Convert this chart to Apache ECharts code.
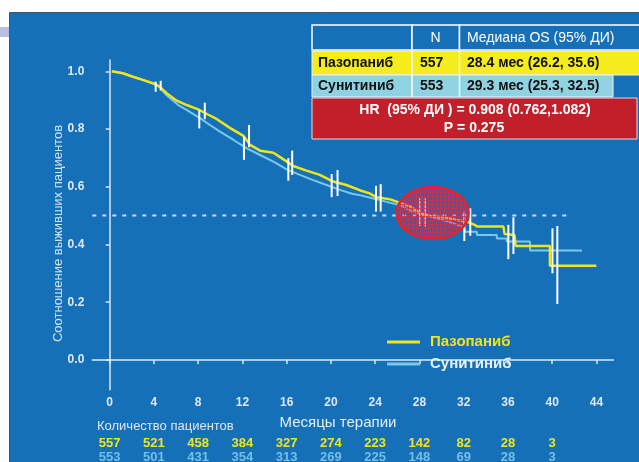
<!DOCTYPE html>
<html><head><meta charset="utf-8">
<script src="https://cdn.jsdelivr.net/npm/echarts@6/dist/echarts.min.js"></script>
<style>html,body{margin:0;padding:0;background:#fff;} #c{width:639px;height:462px;}</style>
</head><body><div id="c"></div>
<script>
// ---- data ----
const seriesNames = ['Пазопаниб', 'Сунитиниб'];
const xTicks = [0, 4, 8, 12, 16, 20, 24, 28, 32, 36, 40, 44];
const yTicks = [0, 0.2, 0.4, 0.6, 0.8, 1.0];
const pazoCurve = [[0.2,1.0],[1.2,0.993],[2.1,0.981],[3.0,0.970],[4.1,0.956],[4.5,0.947],[5.15,0.924],[6.06,0.898],[6.96,0.883],[8.0,0.868],[8.8,0.852],[9.7,0.834],[10.9,0.803],[12.1,0.776],[12.7,0.745],[13.6,0.725],[14.8,0.718],[15.55,0.699],[16.6,0.672],[17.8,0.656],[19.0,0.641],[20.2,0.618],[21.4,0.606],[22.6,0.588],[23.5,0.577],[24.1,0.564],[25.3,0.557],[26.2,0.545],[27.2,0.531],[28.1,0.508],[29.0,0.499],[30.2,0.494],[31.4,0.485],[32.3,0.479],[33.0,0.468],[33.2,0.462],[35.6,0.462],[35.7,0.436],[36.6,0.433],[36.7,0.395],[39.8,0.395],[39.8,0.326],[44.0,0.326]];
const suniCurve = [[0.2,1.0],[1.2,0.993],[2.1,0.981],[3.0,0.970],[4.1,0.955],[4.6,0.945],[4.85,0.929],[5.3,0.912],[6.2,0.883],[6.95,0.866],[8.2,0.837],[9.07,0.814],[9.97,0.791],[11.2,0.762],[12.4,0.733],[13.6,0.710],[14.8,0.687],[16.0,0.660],[17.2,0.641],[18.4,0.623],[19.6,0.606],[20.8,0.589],[22.0,0.575],[22.6,0.571],[24.1,0.557],[25.3,0.545],[26.2,0.537],[27.4,0.514],[28.7,0.499],[30.2,0.485],[31.7,0.465],[32.1,0.456],[32.1,0.444],[33.2,0.444],[33.2,0.433],[35.0,0.433],[35.0,0.421],[35.9,0.421],[35.9,0.410],[38.0,0.410],[38.0,0.379],[42.7,0.379]];
const pazoCI = [[4.61,0.933,0.967],[8.6,0.834,0.891],[12.6,0.737,0.814],[16.5,0.641,0.725],[20.6,0.568,0.658],[24.5,0.514,0.609],[28.5,0.462,0.560],[32.6,0.430,0.525],[36.5,0.367,0.494],[40.47,0.194,0.464]];
const suniCI = [[4.16,0.929,0.964],[8.1,0.802,0.866],[12.14,0.693,0.773],[16.15,0.621,0.699],[20.07,0.564,0.644],[24.08,0.514,0.603],[28.06,0.464,0.560],[32.06,0.412,0.514],[36.04,0.349,0.468],[40.03,0.300,0.456]];
const medianLevel = 0.5;
const medianLineSpan = [-1.57, 41.5];
const highlightCenter = [29.2, 0.509];
const riskTimes = [0, 4, 8, 12, 16, 20, 24, 28, 32, 36, 40];
const pazoRisk = [557, 521, 458, 384, 327, 274, 223, 142, 82, 28, 3];
const suniRisk = [553, 501, 431, 354, 313, 269, 225, 148, 69, 28, 3];
const tableHeader = ['N', 'Медиана OS (95% ДИ)'];
const tableRows = [['Пазопаниб', '557', '28.4 мес (26.2, 35.6)'], ['Сунитиниб', '553', '29.3 мес (25.3, 32.5)']];
const hrText = ['HR  (95% ДИ ) = 0.908 (0.762,1.082)', 'P = 0.275'];

// ---- style ----
const BLUE = '#1570b8', YEL = '#f0e41c', CYAN = '#7cc8ea', AX = '#dfe8f3';
const FONT = '"Liberation Sans", Arial, sans-serif';

const chart = echarts.init(document.getElementById('c'), null, {renderer: 'canvas'});

function ciSeries(name, data) {
  return {
    type: 'custom', name: name + ' CI', data: data, z: 4, silent: true,
    encode: {x: 0, y: [1, 2]},
    renderItem: function (params, api) {
      const p1 = api.coord([api.value(0), api.value(1)]);
      const p2 = api.coord([api.value(0), api.value(2)]);
      return {type: 'line', shape: {x1: p1[0], y1: p1[1], x2: p2[0], y2: p2[1]},
        style: {stroke: '#ffffff', lineWidth: 2}};
    }
  };
}

chart.setOption({
  backgroundColor: '#ffffff',
  animation: false,
  textStyle: {fontFamily: FONT},
  grid: {left: 92.3, right: 25.7, top: 60, bottom: 72.3},
  xAxis: {
    type: 'value', min: -1.57, max: 45.53,
    axisLine: {lineStyle: {color: AX, width: 1.5}},
    axisTick: {show: true, length: 4, customValues: xTicks, lineStyle: {color: AX, width: 1.5}},
    axisLabel: {customValues: xTicks, color: AX, fontWeight: 'bold', fontSize: 12, margin: 7, fontFamily: FONT},
    splitLine: {show: false}
  },
  yAxis: {
    type: 'value', min: -0.103, max: 1.039,
    axisLine: {show: true, lineStyle: {color: AX, width: 1.5}},
    axisTick: {show: true, length: 4, customValues: yTicks, lineStyle: {color: AX, width: 1.5}},
    axisLabel: {customValues: yTicks, color: AX, fontWeight: 'bold', fontSize: 12, margin: 8, fontFamily: FONT,
      formatter: function (v) { return v.toFixed(1); }},
    splitLine: {show: false}
  },
  legend: {
    orient: 'vertical', left: 382, top: 328, itemWidth: 33, itemHeight: 3, itemGap: 4, icon: 'rect',
    textStyle: {fontSize: 15, fontWeight: 'bold', lineHeight: 18, fontFamily: FONT, padding: [0, 0, 0, 5]},
    data: [{name: seriesNames[0], textStyle: {color: YEL}}, {name: seriesNames[1], textStyle: {color: '#e8f0f9'}}]
  },
  series: [
    {type: 'line', name: 'median', data: [[medianLineSpan[0], medianLevel], [medianLineSpan[1], medianLevel]],
      symbol: 'none', silent: true, z: 1, lineStyle: {color: '#c9daee', width: 2, type: [4, 6]}},
    {type: 'line', name: seriesNames[1], data: suniCurve, symbol: 'none', z: 2,
      itemStyle: {color: CYAN}, lineStyle: {color: CYAN, width: 2}},
    {type: 'line', name: seriesNames[0], data: pazoCurve, symbol: 'none', z: 3,
      itemStyle: {color: YEL}, lineStyle: {color: YEL, width: 2.5}},
    ciSeries(seriesNames[1], suniCI),
    ciSeries(seriesNames[0], pazoCI)
  ]
});

// hatch pattern for highlight ellipse
const pc = document.createElement('canvas');
pc.width = 4; pc.height = 4;
const g = pc.getContext('2d');
g.fillStyle = 'rgba(150,60,130,0.35)'; g.fillRect(0, 0, 4, 4);
g.fillStyle = 'rgba(225,40,70,0.7)'; g.fillRect(0, 0, 4, 1); g.fillRect(0, 0, 1, 4);

const toPx = (pt) => chart.convertToPixel({xAxisIndex: 0, yAxisIndex: 0}, pt);
const xPx = (m) => chart.convertToPixel({xAxisIndex: 0}, m);
const ec = toPx(highlightCenter);

const gr = [];
// panel
gr.push({type: 'rect', z: -10, shape: {x: 9.5, y: 12.5, width: 640, height: 460},
  style: {fill: BLUE, stroke: '#4a525c', lineWidth: 1}});
gr.push({type: 'rect', z: -10, shape: {x: 0, y: 27, width: 9, height: 10}, style: {fill: '#b6bee2'}});
// ellipse
gr.push({type: 'ellipse', z: 50, shape: {cx: ec[0], cy: ec[1], rx: 36, ry: 26},
  style: {fill: {image: pc, repeat: 'repeat'}, stroke: '#e3232b', lineWidth: 2.5}});
// axis titles
gr.push({type: 'text', z: 50, x: 58.3, y: 233.5, rotation: Math.PI / 2,
  style: {text: 'Соотношение выживших пациентов', fill: '#d8e4f1', font: '13px ' + FONT, align: 'center', verticalAlign: 'middle'}});
gr.push({type: 'text', z: 50, x: 338, y: 423,
  style: {text: 'Месяцы терапии', fill: '#e6eef8', font: '15px ' + FONT, align: 'center', verticalAlign: 'middle'}});
gr.push({type: 'text', z: 50, x: 97, y: 426,
  style: {text: 'Количество пациентов', fill: '#dce6f2', font: '13px ' + FONT, align: 'left', verticalAlign: 'middle'}});
// numbers at risk
riskTimes.forEach(function (t, i) {
  const x = xPx(t);
  gr.push({type: 'text', z: 50, x: x, y: 443.5,
    style: {text: String(pazoRisk[i]), fill: YEL, font: 'bold 13px ' + FONT, align: 'center', verticalAlign: 'middle'}});
  gr.push({type: 'text', z: 50, x: x, y: 457.5,
    style: {text: String(suniRisk[i]), fill: '#74bfe6', font: 'bold 13px ' + FONT, align: 'center', verticalAlign: 'middle'}});
});
// table
const T = {x0: 312, c1: 412, c2: 459.5, xr: 642};
gr.push({type: 'rect', z: 60, shape: {x: T.x0, y: 25, width: T.c1 - T.x0, height: 25}, style: {fill: BLUE, stroke: '#ffffff', lineWidth: 1.5}});
gr.push({type: 'rect', z: 60, shape: {x: T.c1, y: 25, width: T.c2 - T.c1, height: 25}, style: {fill: BLUE, stroke: '#ffffff', lineWidth: 1.5}});
gr.push({type: 'rect', z: 60, shape: {x: T.c2, y: 25, width: T.xr - T.c2, height: 25}, style: {fill: BLUE, stroke: '#ffffff', lineWidth: 1.5}});
gr.push({type: 'text', z: 61, x: 435.5, y: 38, style: {text: tableHeader[0], fill: '#ffffff', font: '14px ' + FONT, align: 'center', verticalAlign: 'middle'}});
gr.push({type: 'text', z: 61, x: 467, y: 38, style: {text: tableHeader[1], fill: '#ffffff', font: '14px ' + FONT, align: 'left', verticalAlign: 'middle'}});
const rowDefs = [{y: 51, h: 24, fill: '#f5ec1e', right: 642}, {y: 75, h: 22, fill: '#8fd3e3', right: 613}];
rowDefs.forEach(function (r, i) {
  gr.push({type: 'rect', z: 60, shape: {x: T.x0, y: r.y, width: r.right - T.x0, height: r.h}, style: {fill: r.fill, stroke: '#eef2f6', lineWidth: 1}});
  gr.push({type: 'line', z: 61, shape: {x1: T.c1, y1: r.y, x2: T.c1, y2: r.y + r.h}, style: {stroke: '#ffffff', lineWidth: 1.5}});
  gr.push({type: 'line', z: 61, shape: {x1: T.c2, y1: r.y, x2: T.c2, y2: r.y + r.h}, style: {stroke: '#ffffff', lineWidth: 1.5}});
  const cy = r.y + r.h / 2 + 0.5;
  gr.push({type: 'text', z: 62, x: 318, y: cy, style: {text: tableRows[i][0], fill: '#111111', font: 'bold 14px ' + FONT, align: 'left', verticalAlign: 'middle'}});
  gr.push({type: 'text', z: 62, x: 420, y: cy, style: {text: tableRows[i][1], fill: '#111111', font: 'bold 14px ' + FONT, align: 'left', verticalAlign: 'middle'}});
  gr.push({type: 'text', z: 62, x: 467, y: cy, style: {text: tableRows[i][2], fill: '#111111', font: 'bold 14px ' + FONT, align: 'left', verticalAlign: 'middle'}});
});
gr.push({type: 'rect', z: 60, shape: {x: T.x0, y: 98, width: 325, height: 41}, style: {fill: '#c31f2a', stroke: '#d9dde2', lineWidth: 1}});
gr.push({type: 'text', z: 62, x: 475, y: 110.5, style: {text: hrText[0], fill: '#ffffff', font: 'bold 14px ' + FONT, align: 'center', verticalAlign: 'middle'}});
gr.push({type: 'text', z: 62, x: 474, y: 128, style: {text: hrText[1], fill: '#ffffff', font: 'bold 14px ' + FONT, align: 'center', verticalAlign: 'middle'}});

chart.setOption({graphic: gr});
</script></body></html>
